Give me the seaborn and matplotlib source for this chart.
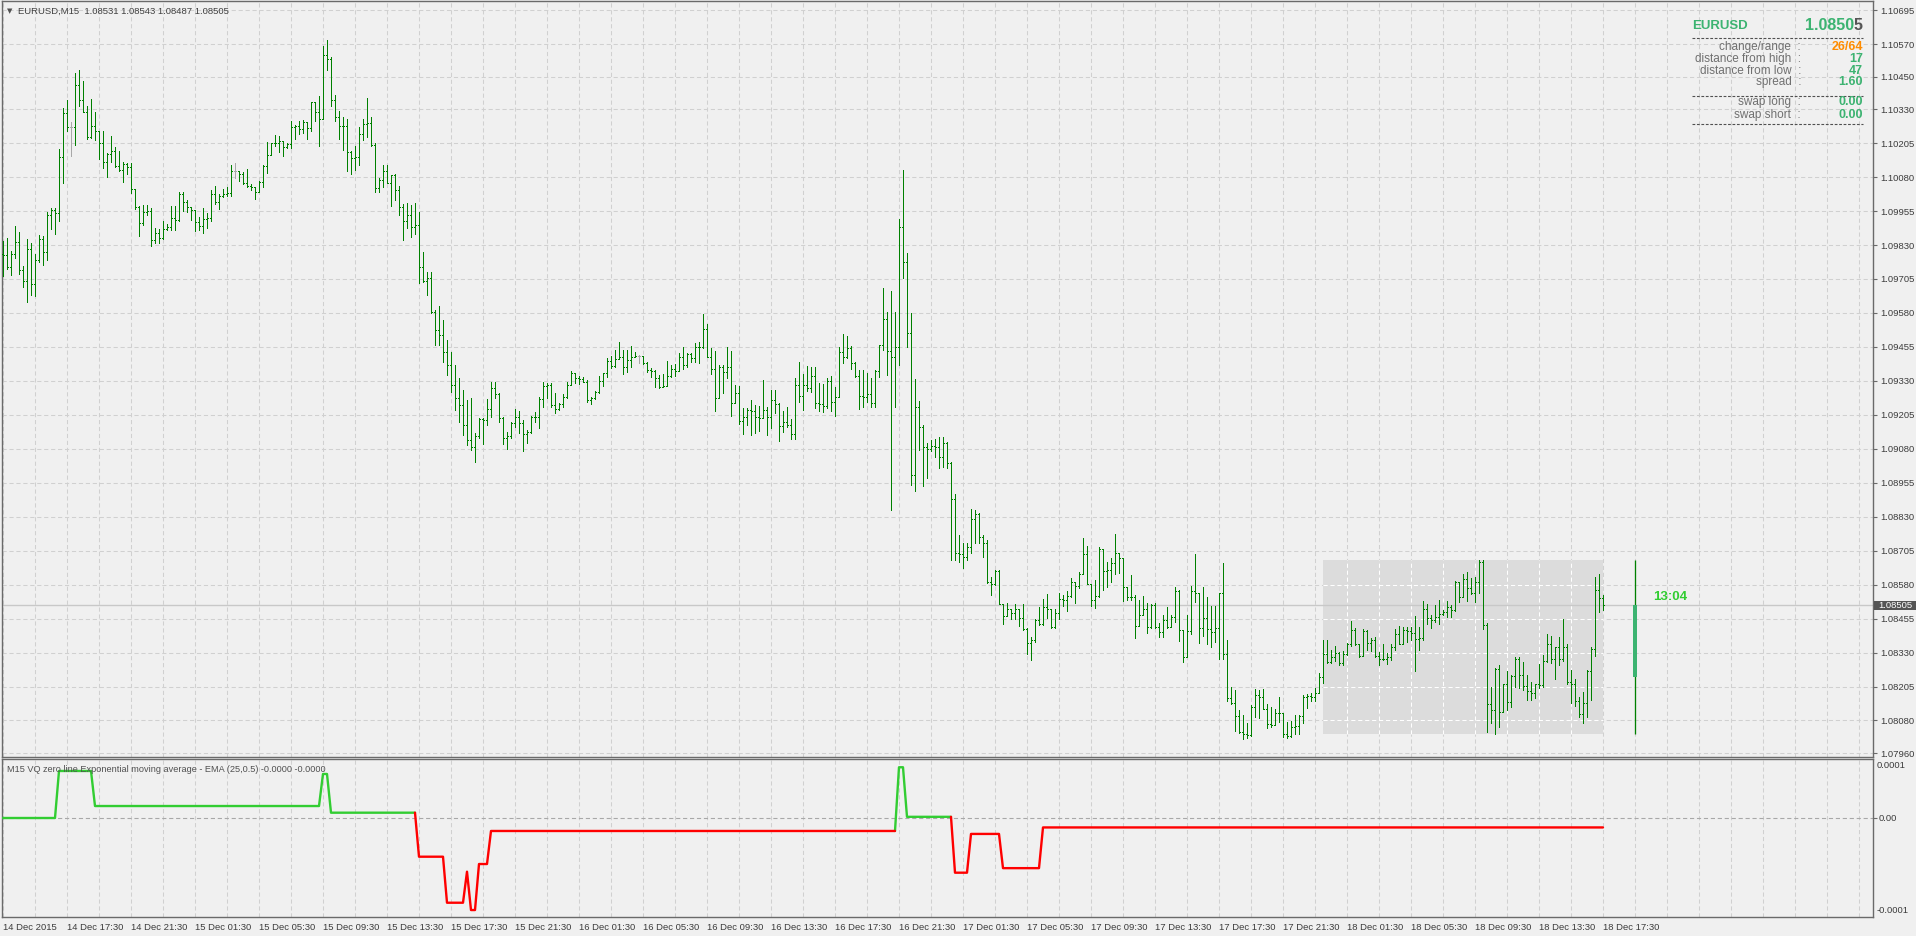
import numpy as np
import pandas as pd
import matplotlib
matplotlib.use("Agg")
import matplotlib.pyplot as plt
from matplotlib.patches import Rectangle
from matplotlib.lines import Line2D
from matplotlib.transforms import blended_transform_factory
import seaborn as sns

# ---------------- data (prices in points, 1 point = 0.00001) ----------------
TITLE = "EURUSD,M15  1.08531 1.08543 1.08487 1.08505"
IND_TITLE = "M15 VQ zero line Exponential moving average - EMA (25,0.5) -0.0000 -0.0000"
FIRST_OPEN_PTS = 109796

HIGH_PTS = [
    109845, 109855, 109808, 109899, 109878, 109753, 109853, 109837, 109796, 109866,
    109865, 109953, 109966, 109966, 110183, 110334, 110364, 110283, 110465, 110475,
    110434, 110341, 110368, 110319, 110249, 110250, 110168, 110232, 110191, 110175,
    110134, 110131, 110131, 110037, 109972, 109978, 109978, 109966, 109893, 109889,
    109919, 109907, 109974, 109972, 110024, 110027, 109996, 109968, 109931, 109935,
    109966, 109947, 110033, 110048, 110017, 110037, 110044, 110125, 110131, 110103,
    110099, 110110, 110055, 110037, 110066, 110125, 110208, 110205, 110235, 110232,
    110212, 110205, 110287, 110272, 110287, 110291, 110283, 110358, 110358, 110379,
    110563, 110585, 110521, 110383, 110324, 110300, 110293, 110177, 110195, 110265,
    110294, 110372, 110302, 110205, 110076, 110125, 110125, 110088, 110092, 110048,
    109981, 109984, 109978, 109985, 109953, 109806, 109730, 109731, 109591, 109606,
    109554, 109480, 109436, 109388, 109341, 109296, 109260, 109266, 109137, 109192,
    109192, 109262, 109327, 109325, 109284, 109198, 109143, 109180, 109225, 109219,
    109186, 109149, 109202, 109217, 109270, 109325, 109321, 109321, 109284, 109248,
    109282, 109325, 109368, 109360, 109349, 109346, 109333, 109272, 109294, 109348,
    109360, 109413, 109422, 109444, 109474, 109444, 109444, 109458, 109438, 109424,
    109419, 109401, 109376, 109370, 109352, 109355, 109403, 109389, 109391, 109434,
    109456, 109431, 109434, 109471, 109473, 109576, 109539, 109450, 109441, 109389,
    109389, 109456, 109440, 109315, 109311, 109229, 109229, 109260, 109241, 109238,
    109333, 109233, 109297, 109297, 109248, 109219, 109235, 109191, 109340, 109401,
    109355, 109385, 109382, 109382, 109321, 109319, 109340, 109348, 109309, 109454,
    109503, 109495, 109458, 109401, 109370, 109370, 109360, 109342, 109370, 109462,
    109673, 109585, 109661, 109585, 109926, 110106, 109802, 109579, 109336, 109257,
    109168, 109103, 109112, 109116, 109125, 109125, 109106, 109032, 108913, 108762,
    108735, 108735, 108858, 108854, 108842, 108762, 108744, 108609, 108634, 108634,
    108507, 108511, 108492, 108507, 108489, 108509, 108419, 108388, 108452, 108496,
    108527, 108544, 108492, 108491, 108548, 108542, 108556, 108603, 108591, 108628,
    108750, 108722, 108584, 108597, 108720, 108710, 108664, 108677, 108766, 108695,
    108677, 108570, 108615, 108542, 108523, 108538, 108513, 108509, 108511, 108440,
    108468, 108496, 108470, 108570, 108562, 108413, 108470, 108576, 108693, 108548,
    108570, 108535, 108502, 108501, 108548, 108661, 108378, 108204, 108192, 108118,
    108100, 108069, 108137, 108194, 108192, 108196, 108140, 108131, 108124, 108167,
    108079, 108075, 108079, 108100, 108100, 108173, 108176, 108180, 108198, 108253,
    108376, 108376, 108339, 108355, 108331, 108335, 108364, 108446, 108419, 108360,
    108415, 108413, 108382, 108388, 108333, 108360, 108327, 108360, 108416, 108429,
    108423, 108423, 108425, 108464, 108425, 108521, 108508, 108468, 108505, 108523,
    108486, 108521, 108505, 108593, 108591, 108618, 108627, 108603, 108609, 108670,
    108670, 108437, 108204, 108272, 108284, 108216, 108262, 108247, 108315, 108315,
    108296, 108247, 108223, 108216, 108288, 108321, 108400, 108391, 108351, 108388,
    108453, 108360, 108266, 108231, 108167, 108186, 108266, 108349, 108607, 108618,
    108543,
]

LOW_PTS = [
    109716, 109741, 109720, 109784, 109723, 109675, 109622, 109647, 109644, 109766,
    109757, 109775, 109889, 109872, 109920, 110060, 110251, 110159, 110199, 110340,
    110319, 110220, 110223, 110215, 110147, 110115, 110082, 110137, 110117, 110104,
    110062, 110092, 110022, 109962, 109865, 109904, 109941, 109828, 109837, 109839,
    109853, 109886, 109886, 109886, 109920, 109956, 109951, 109923, 109882, 109886,
    109876, 109893, 109918, 109980, 109963, 110005, 110012, 110012, 110078, 110067,
    110055, 110045, 110033, 109999, 110024, 110045, 110097, 110162, 110196, 110174,
    110159, 110186, 110189, 110222, 110238, 110242, 110222, 110251, 110288, 110196,
    110293, 110475, 110340, 110285, 110222, 110180, 110101, 110092, 110107, 110126,
    110218, 110229, 110196, 110027, 110027, 110045, 110058, 109975, 109996, 109939,
    109849, 109892, 109861, 109871, 109689, 109693, 109647, 109579, 109462, 109462,
    109400, 109352, 109289, 109223, 109179, 109131, 109094, 109076, 109033, 109119,
    109097, 109168, 109196, 109266, 109180, 109097, 109078, 109119, 109162, 109137,
    109073, 109100, 109137, 109180, 109158, 109235, 109266, 109233, 109211, 109223,
    109233, 109266, 109319, 109321, 109319, 109325, 109254, 109245, 109263, 109284,
    109312, 109346, 109376, 109380, 109413, 109354, 109364, 109380, 109419, 109395,
    109392, 109362, 109346, 109309, 109303, 109306, 109343, 109346, 109349, 109366,
    109373, 109382, 109398, 109401, 109395, 109450, 109417, 109355, 109220, 109266,
    109284, 109342, 109202, 109248, 109171, 109135, 109168, 109131, 109137, 109147,
    109196, 109131, 109155, 109211, 109110, 109143, 109162, 109115, 109117, 109254,
    109223, 109294, 109290, 109229, 109220, 109217, 109229, 109220, 109202, 109270,
    109395, 109413, 109374, 109343, 109228, 109233, 109254, 109235, 109235, 109343,
    109444, 109352, 108855, 109235, 109389, 109710, 109456, 108947, 108926, 109076,
    108944, 108971, 109073, 109051, 109008, 109014, 109008, 108670, 108670, 108664,
    108642, 108670, 108697, 108734, 108732, 108683, 108587, 108542, 108578, 108507,
    108435, 108466, 108452, 108452, 108428, 108413, 108324, 108302, 108370, 108431,
    108431, 108456, 108421, 108421, 108452, 108501, 108483, 108535, 108513, 108569,
    108618, 108584, 108501, 108495, 108535, 108562, 108572, 108591, 108619, 108621,
    108521, 108523, 108523, 108385, 108431, 108474, 108401, 108419, 108419, 108386,
    108386, 108419, 108425, 108443, 108373, 108296, 108312, 108397, 108515, 108364,
    108391, 108360, 108351, 108367, 108308, 108308, 108151, 108139, 108042, 108035,
    108010, 108014, 108024, 108091, 108088, 108124, 108051, 108057, 108072, 108075,
    108018, 108014, 108020, 108032, 108032, 108072, 108127, 108153, 108153, 108186,
    108219, 108293, 108293, 108300, 108284, 108284, 108321, 108354, 108358, 108312,
    108333, 108339, 108335, 108315, 108284, 108302, 108286, 108302, 108339, 108360,
    108361, 108370, 108376, 108263, 108339, 108378, 108435, 108419, 108443, 108434,
    108468, 108459, 108459, 108484, 108517, 108535, 108520, 108544, 108517, 108548,
    108415, 108039, 108069, 108032, 108057, 108124, 108118, 108131, 108204, 108198,
    108192, 108155, 108155, 108164, 108198, 108204, 108296, 108290, 108231, 108284,
    108300, 108214, 108143, 108134, 108094, 108069, 108094, 108155, 108317, 108480,
    108487,
]

CLOSE_PTS = [
    109792, 109748, 109797, 109840, 109739, 109698, 109817, 109687, 109775, 109851,
    109805, 109941, 109959, 109947, 110153, 110315, 110264, 110264, 110418, 110363,
    110321, 110229, 110270, 110249, 110205, 110135, 110166, 110175, 110120, 110107,
    110127, 110118, 110037, 109969, 109910, 109951, 109956, 109847, 109874, 109855,
    109888, 109896, 109929, 109923, 110019, 109988, 109969, 109958, 109914, 109899,
    109925, 109929, 110017, 109990, 110009, 110017, 110020, 110101, 110101, 110091,
    110058, 110048, 110045, 110024, 110062, 110121, 110161, 110205, 110207, 110212,
    110190, 110202, 110264, 110267, 110256, 110282, 110260, 110356, 110320, 110293,
    110530, 110514, 110363, 110300, 110269, 110267, 110172, 110150, 110154, 110238,
    110275, 110278, 110199, 110039, 110069, 110102, 110058, 110087, 110031, 109969,
    109919, 109940, 109896, 109903, 109750, 109697, 109708, 109585, 109517, 109499,
    109436, 109388, 109315, 109267, 109241, 109168, 109112, 109088, 109127, 109189,
    109186, 109225, 109303, 109281, 109195, 109119, 109128, 109174, 109196, 109174,
    109133, 109141, 109198, 109196, 109262, 109311, 109315, 109241, 109225, 109245,
    109272, 109314, 109358, 109340, 109338, 109325, 109260, 109266, 109288, 109330,
    109358, 109403, 109385, 109409, 109417, 109382, 109407, 109419, 109422, 109422,
    109397, 109370, 109367, 109340, 109306, 109311, 109348, 109375, 109368, 109419,
    109389, 109428, 109413, 109456, 109454, 109520, 109417, 109373, 109266, 109382,
    109364, 109382, 109248, 109284, 109182, 109198, 109223, 109220, 109198, 109195,
    109223, 109196, 109260, 109245, 109164, 109177, 109168, 109135, 109315, 109274,
    109315, 109303, 109348, 109248, 109245, 109238, 109331, 109251, 109270, 109438,
    109417, 109450, 109395, 109349, 109274, 109271, 109281, 109248, 109366, 109462,
    109557, 109440, 109419, 109456, 109898, 109769, 109505, 108984, 109233, 109162,
    109088, 109079, 109090, 109088, 109049, 109100, 109027, 108895, 108695, 108692,
    108680, 108717, 108820, 108840, 108756, 108732, 108588, 108584, 108630, 108507,
    108466, 108492, 108474, 108489, 108458, 108415, 108364, 108378, 108450, 108434,
    108499, 108489, 108423, 108474, 108526, 108523, 108538, 108588, 108575, 108618,
    108691, 108584, 108523, 108538, 108710, 108631, 108634, 108658, 108695, 108677,
    108570, 108535, 108533, 108429, 108470, 108489, 108423, 108505, 108425, 108404,
    108450, 108423, 108462, 108557, 108413, 108315, 108410, 108556, 108548, 108419,
    108458, 108415, 108404, 108419, 108548, 108324, 108161, 108145, 108096, 108036,
    108032, 108026, 108131, 108174, 108165, 108124, 108067, 108063, 108109, 108106,
    108030, 108023, 108057, 108059, 108096, 108167, 108170, 108165, 108182, 108239,
    108324, 108296, 108315, 108327, 108293, 108324, 108361, 108413, 108360, 108317,
    108410, 108364, 108378, 108318, 108305, 108308, 108315, 108351, 108398, 108361,
    108413, 108410, 108403, 108380, 108383, 108489, 108456, 108450, 108459, 108472,
    108480, 108499, 108486, 108588, 108535, 108600, 108566, 108548, 108588, 108664,
    108431, 108139, 108118, 108268, 108112, 108214, 108147, 108245, 108308, 108247,
    108208, 108189, 108180, 108213, 108210, 108300, 108361, 108308, 108351, 108308,
    108351, 108220, 108216, 108153, 108104, 108143, 108263, 108343, 108562, 108531,
    108505,
]

DAY_START_BAR = 330          # first bar of 18 Dec
CURRENT_PRICE = 1.08505
TIMER_TEXT = "13:04"

X_TICK_LABELS = [
    "14 Dec 2015", "14 Dec 17:30", "14 Dec 21:30", "15 Dec 01:30", "15 Dec 05:30",
    "15 Dec 09:30", "15 Dec 13:30", "15 Dec 17:30", "15 Dec 21:30", "16 Dec 01:30",
    "16 Dec 05:30", "16 Dec 09:30", "16 Dec 13:30", "16 Dec 17:30", "16 Dec 21:30",
    "17 Dec 01:30", "17 Dec 05:30", "17 Dec 09:30", "17 Dec 13:30", "17 Dec 17:30",
    "17 Dec 21:30", "18 Dec 01:30", "18 Dec 05:30", "18 Dec 09:30", "18 Dec 13:30",
    "18 Dec 17:30",
]
Y_TICK_LABELS = [
    "1.10695", "1.10570", "1.10450", "1.10330", "1.10205", "1.10080", "1.09955",
    "1.09830", "1.09705", "1.09580", "1.09455", "1.09330", "1.09205", "1.09080",
    "1.08955", "1.08830", "1.08705", "1.08580", "1.08455", "1.08330", "1.08205",
    "1.08080", "1.07960",
]

# indicator: step levels (units of 1e-5) and how many bars each lasts
IND_LEVELS_E5 = [0.0, 7.97, 2.03, 7.46, 0.9, -6.56, -14.36, -9.1, -15.6, -7.8,
                 -2.2, 8.6, 0.2, -9.27, -2.7, -8.5, -1.6]
IND_RUN_BARS = [14, 9, 57, 2, 22, 7, 5, 1, 2, 3, 102, 2, 12, 4, 8, 10, 141]

INFO_ROWS = [("change/range", "26/64", "#ff8c00"),
             ("distance from high", "17", "#3cb371"),
             ("distance from low", "47", "#3cb371"),
             ("spread", "1.60", "#3cb371")]
SWAP_ROWS = [("swap long", "0.00", "#3cb371"),
             ("swap short", "0.00", "#3cb371")]

# ---------------- styling ----------------
sns.set_theme(style="white")
plt.rcParams["font.family"] = ["Liberation Sans", "DejaVu Sans"]
plt.rcParams["lines.scale_dashes"] = False

BG = "#f0f0f0"
GRID = "#d0d0d0"
BAR_GREEN = "#008000"
DOJI_GREY = "#a8a8a8"
SPINE = "#6a6a6a"
TXT = "#3c3c3c"
PX = 0.72  # one pixel in points at 100 dpi

W, H = 1916, 936
def fx(px):
    return px / W
def fy(py):
    return 1 - py / H

fig = plt.figure(figsize=(W / 100, H / 100), dpi=100, facecolor=BG)
ax = fig.add_axes([fx(2), fy(757), (1873 - 2) / W, (757 - 1) / H], facecolor=BG)
ax2 = fig.add_axes([fx(2), fy(917), (1873 - 2) / W, (917 - 759) / H], facecolor=BG)

# ---------------- OHLC bars ----------------
c = np.array(CLOSE_PTS)
o = np.concatenate([[FIRST_OPEN_PTS], c[:-1]])
h = np.maximum(np.array(HIGH_PTS), np.maximum(o, c))
l = np.minimum(np.array(LOW_PTS), np.minimum(o, c))
idx = np.arange(len(c))
doji = (o == c)
cols = np.where(doji, DOJI_GREY, BAR_GREEN)
scale = 1e-5
O, Hh, L, C = o * scale, h * scale, l * scale, c * scale

ax.vlines(idx, L, Hh, colors=cols, lw=PX, antialiased=False, zorder=3)
ax.hlines(O, idx - 0.3, idx, colors=cols, lw=PX, antialiased=False, zorder=3)
ax.hlines(C, idx, idx + 0.3, colors=cols, lw=PX, antialiased=False, zorder=3)

# day range box & day candle
day = slice(DAY_START_BAR, len(c))
day_hi, day_lo = Hh[day].max(), L[day].min()
day_open, last = O[DAY_START_BAR], C[-1]
last_bar = len(c) - 1
ax.add_patch(Rectangle((DAY_START_BAR, day_lo), last_bar - DAY_START_BAR, day_hi - day_lo,
                       facecolor="#dcdcdc", edgecolor="none", zorder=1.5))
ytv = [float(s) for s in Y_TICK_LABELS]
for xb in range(DAY_START_BAR + 6, last_bar, 8):
    ax.vlines(xb, day_lo, day_hi, colors="white", lw=0.75, linestyles=(0, (3, 2)), zorder=1.6)
for yv in ytv:
    if day_lo < yv < day_hi:
        ax.hlines(yv, DAY_START_BAR, last_bar, colors="white", lw=0.75,
                  linestyles=(0, (3, 2)), zorder=1.6)

ax.axhline(CURRENT_PRICE, color="#c8c8c8", lw=1.0, zorder=2)
cand_x = last_bar + 8
ax.vlines(cand_x, day_lo, day_hi, colors=BAR_GREEN, lw=PX * 1.3, zorder=3)
ax.vlines(cand_x, day_open, last, colors="#3cb371", lw=4 * PX, zorder=4)

# ---------------- axes formatting (main) ----------------
ax.set_xlim(-0.25, 467.5)
ax.set_ylim(1.079455, 1.107283)
ax.yaxis.tick_right()
ax.set_yticks(ytv)
ax.set_yticklabels(Y_TICK_LABELS)
ax.tick_params(axis="y", direction="out", length=3, width=0.8, colors=SPINE,
               labelcolor=TXT, labelsize=6.8, pad=2)
ax.set_xticks(np.arange(0, 468, 8))
ax.tick_params(axis="x", length=0, labelbottom=False)
ax.set_axisbelow(True)
ax.grid(True, color=GRID, lw=0.75, linestyle=(0, (3, 2)))
for s in ax.spines.values():
    s.set_color(SPINE)
    s.set_linewidth(1.0)

# price label box on the right axis
tr = blended_transform_factory(ax.transAxes, ax.transData)
px_price = (1.107283 - 1.079455) / 756
ax.add_patch(Rectangle((1.0 + 1 / 1871, CURRENT_PRICE - 4.5 * px_price), 42 / 1871, 9 * px_price,
                       transform=tr, facecolor="#555555", edgecolor="none", clip_on=False, zorder=5))
ax.text(1.0 + 5 / 1871, CURRENT_PRICE, f"{CURRENT_PRICE:.5f}", transform=tr, color="white",
        fontsize=6.8, va="center", ha="left", clip_on=False, zorder=6)

# ---------------- indicator ----------------
ind = np.repeat(np.array(IND_LEVELS_E5) * 1e-5, IND_RUN_BARS)
rows, run, prev = [], 0, None
for k in range(1, len(ind)):
    d = "up" if ind[k] >= 0 else "down"
    if d != prev:
        run += 1
        rows.append((k - 1, ind[k - 1], d, run))
        prev = d
    rows.append((k, ind[k], d, run))
df = pd.DataFrame(rows, columns=["bar", "val", "dir", "run"])
sns.lineplot(data=df, x="bar", y="val", hue="dir", units="run", estimator=None, sort=False,
             palette={"up": "#32cd32", "down": "#ff0000"}, lw=1.7, legend=False, ax=ax2, zorder=3)
ax2.set_xlabel("")
ax2.set_ylabel("")
ax2.axhline(0, color="#a8a8a8", lw=0.8, linestyle=(0, (3, 2)), zorder=1)
ax2.set_xlim(-0.25, 467.5)
ax2.set_ylim(-1.678e-4, 1.0e-4)
ax2.set_xticks(np.arange(0, 16 * len(X_TICK_LABELS), 16))
ax2.set_xticklabels(X_TICK_LABELS, ha="left")
ax2.set_xticks(np.arange(0, 468, 8), minor=True)
ax2.tick_params(axis="x", which="major", direction="out", length=3, width=0.8, colors=SPINE,
                labelcolor=TXT, labelsize=6.8, pad=1.5)
ax2.tick_params(axis="x", which="minor", length=0)
ax2.set_axisbelow(True)
ax2.grid(True, which="both", axis="x", color=GRID, lw=0.75, linestyle=(0, (3, 2)))
ax2.grid(False, axis="y")
ax2.yaxis.tick_right()
ax2.set_yticks([0])
ax2.set_yticklabels(["0.00"])
ax2.tick_params(axis="y", direction="out", length=3, width=0.8, colors=SPINE,
                labelcolor=TXT, labelsize=6.8, pad=1)
ax2.text(1.0 + 4 / 1871, 0.985, "0.0001", transform=ax2.transAxes, va="top", ha="left",
         fontsize=6.8, color=TXT)
ax2.text(1.0 + 4 / 1871, 0.01, "-0.0001", transform=ax2.transAxes, va="bottom", ha="left",
         fontsize=6.8, color=TXT)
for s in ax2.spines.values():
    s.set_color(SPINE)
    s.set_linewidth(1.0)

# ---------------- texts ----------------
fig.text(fx(7), fy(11), "\u25bc", fontsize=5, family="DejaVu Sans", color="#505050", va="center")
fig.text(fx(18), fy(11), TITLE, fontsize=6.8, color="#404040", va="center")
fig.text(fx(7), fy(769), IND_TITLE, fontsize=6.6, color="#505050", va="center")
fig.text(fx(1653), fy(597), TIMER_TEXT, fontsize=9.5, fontweight="bold", color="#32cd32", va="center")

# info panel
fig.text(fx(1692), fy(26), "EURUSD", fontsize=9.5, fontweight="bold", color="#3cb371", va="center")
fig.text(fx(1863), fy(26), f"{CURRENT_PRICE:.5f}"[-1], fontsize=11.5, fontweight="bold",
         color="#555555", va="center", ha="right")
fig.text(fx(1854), fy(26), f"{CURRENT_PRICE:.5f}"[:-1], fontsize=11.5, fontweight="bold",
         color="#3cb371", va="center", ha="right")
for yy in (37.7, 95.7, 124):
    fig.add_artist(Line2D([fx(1692), fx(1863)], [fy(yy), fy(yy)], transform=fig.transFigure,
                          color="#505050", lw=0.8, linestyle=(0, (2, 1.2))))
for (lab, val, col), yy in zip(INFO_ROWS + SWAP_ROWS, (46.7, 59, 70.7, 82.3, 102.3, 115)):
    fig.text(fx(1801), fy(yy), lab + "  :", fontsize=8.5, color="#707070", va="center", ha="right")
    fig.text(fx(1863), fy(yy), val, fontsize=9, fontweight="bold", color=col, va="center", ha="right")

fig.savefig("out.png", dpi=100, facecolor=BG)
